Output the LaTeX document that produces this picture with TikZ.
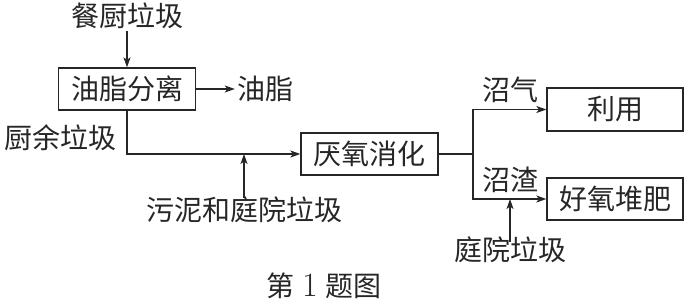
\documentclass[tikz,border=0pt]{standalone}
\usepackage{fontspec}
\newfontfamily\cjk{Noto Sans CJK SC}
\usetikzlibrary{arrows.meta,calc}
\begin{document}
\begin{tikzpicture}[x=1pt,y=-1pt,
  every node/.style={font=\cjk\fontsize{28}{30}\selectfont, text=black!85, inner sep=2pt},
  procbox/.style={draw=black!85, line width=1.3pt, minimum height=42pt, inner sep=0pt},
  conn/.style={draw=black!85, line width=1.3pt},
  arr/.style={conn, -{Stealth[length=10pt,width=7pt,inset=2.5pt]}}]
\useasboundingbox (0,0) rectangle (685,303);
% boxes
\node[procbox, minimum width=137pt] (A) at (127,89) {油脂分离};
\node[procbox, minimum width=137pt] (B) at (369.5,154) {厌氧消化};
\node[procbox, minimum width=136pt, minimum height=43pt] (C) at (615,109.5) {利用};
\node[procbox, minimum width=136pt] (D) at (615,199) {好氧堆肥};
% labels
\node (t1) at (127,16) {餐厨垃圾};
\node (t2) at (265,89) {油脂};
\node (t3) at (61,138) {厨余垃圾};
\node (t4) at (244,210) {污泥和庭院垃圾};
\node (t5) at (510,90) {沼气};
\node (t6) at (510,180) {沼渣};
\node (t7) at (510,250) {庭院垃圾};
\node (cap) at (324,286) {第\hspace{8pt}{\rmfamily\fontsize{34}{34}\selectfont 1}\hspace{8pt}题图};
% junction
\coordinate (j) at (473,154);
% connectors
\draw[arr] (t1.south) -- (t1.south |- A.north);
\draw[arr] (A.east) -- (t2.west);
\draw[arr] (A.south) |- (B.west);
\draw[arr, shorten <=-3pt] (t4.north) -- (t4.north |- B.west);
\draw[conn] (B.east) -- (j);
\draw[arr] (j) |- (C.west);
\draw[arr] (j) |- (D.west);
\draw[arr, shorten <=-7pt] (t7.north) -- (t7.north |- D.west);
\end{tikzpicture}
\end{document}
